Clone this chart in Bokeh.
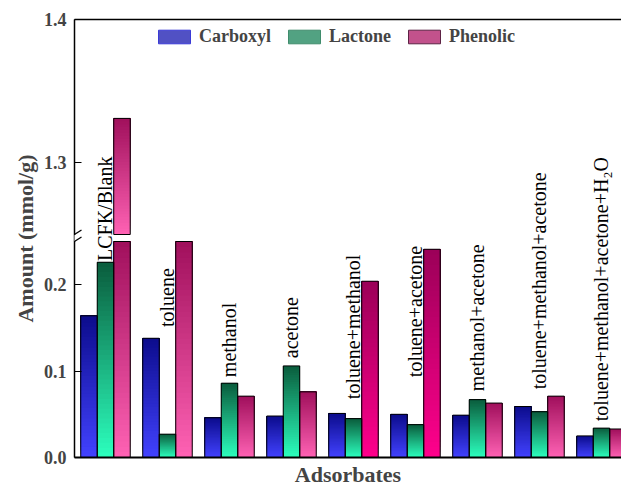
import math
from bokeh.plotting import figure
from bokeh.models import (Range1d, LinearAxis, FixedTicker, CustomJSTickFormatter,
                          Legend, LegendItem, Arrow)
from bokeh.core.properties import value
from bokeh.embed import file_html
from bokeh.resources import INLINE

# ---------------- data ----------------
categories = ["LCFK/Blank", "toluene", "methanol", "acetone", "toluene+methanol",
              "toluene+acetone", "methanol+acetone", "toluene+methanol+acetone",
              "toluene+methanol+acetone+H\u2082O"]
carboxyl = [0.164, 0.138, 0.046, 0.048, 0.051, 0.050, 0.049, 0.059, 0.025]
lactone = [0.226, 0.027, 0.086, 0.106, 0.045, 0.038, 0.067, 0.053, 0.034]
phenolic = [1.331, 0.27, 0.071, 0.076, 0.204, 0.241, 0.063, 0.071, 0.033]
series_names = ["Carboxyl", "Lactone", "Phenolic"]
label_base = [0.2274, 0.151, 0.093, 0.115, 0.0675, 0.093, 0.0767, 0.079, 0.042]
y_ticks_low = [0.0, 0.1, 0.2]
y_ticks_high = [1.3, 1.4]

# axis break
BREAK_LO, BREAK_HI, Y_TOP = 0.25, 1.25, 1.4

# ---------------- geometry / style ----------------
FH = 438.0        # frame height px
LOW_PX = 216.0    # lower segment px
GAP_PX = 7.0
UP_PX = FH - LOW_PX - GAP_PX
main_end = BREAK_LO * FH / LOW_PX
up_start = Y_TOP - (Y_TOP - BREAK_HI) * FH / UP_PX
px_y = main_end / FH
X0, X1 = -0.5, 8.323
px_x = 1.0 / 62.0

def to_main(v):
    return (v - up_start) / (Y_TOP - up_start) * main_end

FONT = "Liberation Serif"
BW = 16.5 * px_x
offsets = [-BW, 0.0, BW]

soft_p = ((160, 16, 92), (255, 98, 180))
hot_p = ((155, 0, 88), (255, 0, 140))
grad = {
    "Carboxyl": [((12, 12, 140), (66, 66, 255))] * 9,
    "Lactone": [((10, 92, 60), (44, 255, 190))] * 9,
    "Phenolic": [soft_p] * 4 + [hot_p] * 2 + [soft_p] * 3,
}
legend_style = {
    "Carboxyl": ("#5151c4", "#3a3ad6"),
    "Lactone": ("#52a282", "#3f8c6c"),
    "Phenolic": ("#c2528c", "#5c2244"),
}

p = figure(width=621, height=489, output_backend="svg", toolbar_location=None,
           x_range=Range1d(X0, X1), y_range=Range1d(0, main_end),
           min_border_left=74, min_border_right=0, min_border_top=19, min_border_bottom=28)
p.extra_y_ranges = {"upper": Range1d(up_start, Y_TOP)}
p.outline_line_color = None
p.xgrid.visible = False
p.ygrid.visible = False
p.background_fill_color = "white"

def hexc(c):
    return "#%02x%02x%02x" % tuple(int(round(v)) for v in c)

N = 40
def add_gradient(xc, b, t, ctop, cbot, acc):
    h = (t - b) / N
    for k in range(N):
        f = (k + 0.5) / N  # 0 bottom -> 1 top
        col = tuple(cbot[j] + (ctop[j] - cbot[j]) * f for j in range(3))
        acc["L"].append(xc - BW / 2); acc["R"].append(xc + BW / 2)
        acc["B"].append(b + k * h); acc["T"].append(t)   # overlapping slices: no seams
        acc["C"].append(hexc(col))

all_series = [carboxyl, lactone, phenolic]
lo = dict(L=[], R=[], T=[], B=[], C=[])
up = dict(L=[], R=[], T=[], B=[], C=[])
lo_out = dict(L=[], R=[], T=[], B=[])
up_out = dict(L=[], R=[], T=[], B=[])
for s, (name, vals) in enumerate(zip(series_names, all_series)):
    for i, v in enumerate(vals):
        xc = i + offsets[s]
        ctop, cbot = grad[name][i]
        t = min(v, BREAK_LO)
        add_gradient(xc, 0.0, t, ctop, cbot, lo)
        lo_out["L"].append(xc - BW / 2); lo_out["R"].append(xc + BW / 2)
        lo_out["B"].append(0.0); lo_out["T"].append(t)
        if v > BREAK_HI:
            add_gradient(xc, BREAK_HI, v, ctop, cbot, up)
            up_out["L"].append(xc - BW / 2); up_out["R"].append(xc + BW / 2)
            up_out["B"].append(BREAK_HI); up_out["T"].append(v)

p.quad(left=lo["L"], right=lo["R"], top=lo["T"], bottom=lo["B"], fill_color=lo["C"], line_color=None)
p.quad(left=up["L"], right=up["R"], top=up["T"], bottom=up["B"], fill_color=up["C"], line_color=None,
       y_range_name="upper")
p.quad(left=lo_out["L"], right=lo_out["R"], top=lo_out["T"], bottom=lo_out["B"],
       fill_color=None, line_color="black", line_width=1)
p.quad(left=up_out["L"], right=up_out["R"], top=up_out["T"], bottom=up_out["B"],
       fill_color=None, line_color="black", line_width=1, y_range_name="upper")

# category labels
p.text(x=list(range(len(categories))), y=label_base, text=categories, angle=math.pi / 2,
       text_align="left", text_baseline="middle", text_font=value(FONT),
       text_font_size="20px", text_color="black")

# legend (proxy renderers with a single NaN row so that the swatch is drawn)
nan = float("nan")
items = []
for name in series_names:
    fc, lc = legend_style[name]
    r = p.quad(left=[nan], right=[nan], top=[nan], bottom=[nan], fill_color=fc, line_color=lc, line_width=1)
    items.append(LegendItem(label=name, renderers=[r]))
legend = Legend(items=items, orientation="horizontal", location=(80, 410),
                glyph_width=40, glyph_height=17, label_standoff=5, spacing=13,
                padding=0, margin=0, border_line_color=None, background_fill_alpha=0,
                label_text_font=FONT, label_text_font_style="bold", label_text_font_size="18px")
p.add_layout(legend)

# axes
ya = p.yaxis[0]
ya.ticker = FixedTicker(ticks=y_ticks_low + [to_main(v) for v in y_ticks_high], minor_ticks=[])
ya.formatter = CustomJSTickFormatter(args=dict(lo=BREAK_LO + 1e-9, us=up_start, me=main_end, top=Y_TOP),
                                     code="const v = tick > lo ? us + tick / me * (top - us) : tick; return v.toFixed(1);")
ya.major_tick_in = 7
ya.major_tick_out = 0
ya.minor_tick_in = 0
ya.minor_tick_out = 0
ya.axis_line_width = 1.5
ya.major_tick_line_width = 1.2
ya.major_label_text_font = FONT
ya.major_label_text_font_style = "bold"
ya.major_label_text_font_size = "18px"
ya.major_label_standoff = 8
ya.axis_label = "Amount (mmol/g)"
ya.axis_label_text_font = FONT
ya.axis_label_text_font_style = "bold"
ya.axis_label_text_font_size = "22px"
ya.axis_label_standoff = 3

xa = p.xaxis[0]
xa.ticker = FixedTicker(ticks=[], minor_ticks=[])
xa.major_tick_in = 0
xa.major_tick_out = 0
xa.minor_tick_in = 0
xa.minor_tick_out = 0
xa.axis_line_width = 2
xa.major_label_standoff = 0
xa.major_label_text_font_size = "0px"
xa.axis_label = "Adsorbates"
xa.axis_label_text_font = FONT
xa.axis_label_text_font_style = "bold"
xa.axis_label_text_font_size = "22px"
xa.axis_label_standoff = 4

top_ax = LinearAxis(ticker=FixedTicker(ticks=[], minor_ticks=[]), major_tick_in=0, major_tick_out=0,
                    minor_tick_in=0, minor_tick_out=0, axis_line_width=1.5, major_label_standoff=0,
                    major_label_text_font_size="0px")
p.add_layout(top_ax, "above")

# axis break: white gap + slashes
p.add_layout(Arrow(end=None, x_start=X0, x_end=X0, y_start=BREAK_LO + 0.5 * px_y,
                   y_end=to_main(BREAK_HI) - 0.5 * px_y, line_color="white", line_width=4))
for yb in [BREAK_LO, to_main(BREAK_HI)]:
    p.add_layout(Arrow(end=None, x_start=X0 - 7 * px_x, y_start=yb - 4.5 * px_y,
                       x_end=X0 + 7 * px_x, y_end=yb + 4.5 * px_y,
                       line_color="black", line_width=1.2))

open("out.html", "w").write(file_html(p, INLINE))
